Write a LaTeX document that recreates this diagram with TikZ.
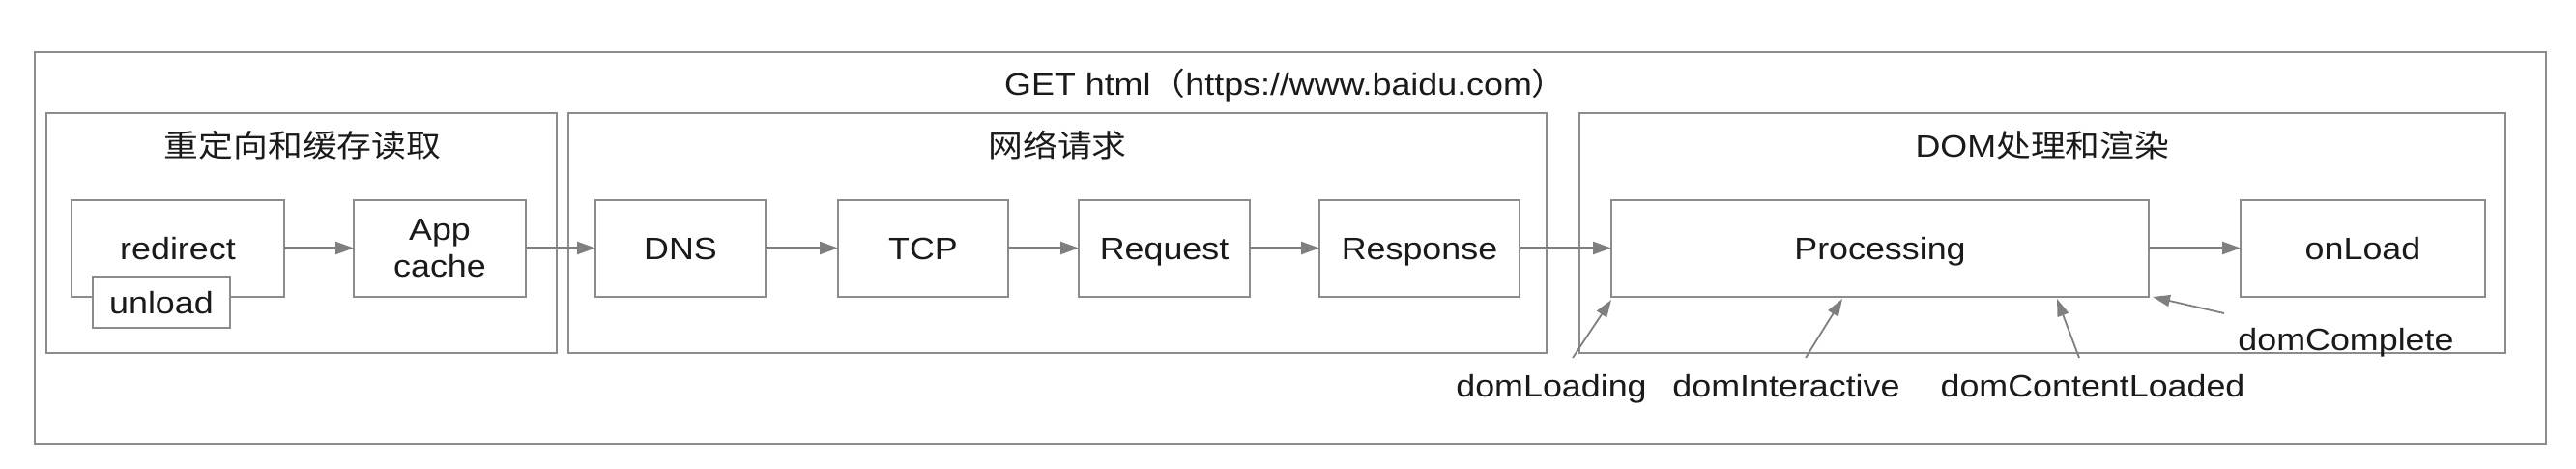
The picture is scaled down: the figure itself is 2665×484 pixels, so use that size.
\documentclass[tikz,border=0pt]{standalone}
\usepackage{fontspec}
\setmainfont{Liberation Sans}[FakeStretch=1.12]
\newfontfamily\cjk{Noto Sans CJK SC}[FakeStretch=1.12]
\usetikzlibrary{arrows.meta,calc}
\definecolor{bordergray}{HTML}{8C8C8C}
\definecolor{arrowgray}{HTML}{7F7F7F}
\definecolor{txt}{HTML}{1A1A1A}
\begin{document}
\begin{tikzpicture}[x=0.5pt,y=-0.5pt,
  font=\fontsize{16}{19}\selectfont, text=txt,
  frame/.style={draw=bordergray, line width=1pt, inner sep=0pt, outer sep=0pt},
  boxbase/.style={frame, fill=white, minimum height=50pt, align=center},
  box/.style={boxbase, text height=11.5pt, text depth=0pt},
  grp/.style={frame},
  lbl/.style={inner sep=0pt, anchor=base},
  conn/.style={draw=arrowgray, line width=1.2pt, -{Triangle[length=9.5pt,width=6.5pt]}},
  ann/.style={draw=arrowgray, line width=0.9pt, -{Triangle[length=9pt,width=6pt]}}]
\useasboundingbox (0,0) rectangle (2665,484);
% outer frame and title
\node[frame, minimum width=1299pt, minimum height=202.5pt] (outer) at (1335,256.5) {};
\node[lbl] (title) at (1330,98) {GET html{\cjk （}https://www.baidu.com{\cjk ）}};
% groups
\node[grp, minimum width=264pt, minimum height=124pt] (g1) at (312,241) {};
\node[grp, minimum width=506pt, minimum height=124pt] (g2) at (1094,241) {};
\node[grp, minimum width=479pt, minimum height=124pt] (g3) at (2113,241) {};
\node[lbl] (t1) at (313,162) {\cjk 重定向和缓存读取};
\node[lbl] (t2) at (1094,162) {\cjk 网络请求};
\node[lbl] (t3) at (2113,162) {DOM{\cjk 处理和渲染}};
% boxes
\node[box, minimum width=110pt] (redirect) at (184,256.5) {redirect};
\node[box, minimum width=71pt, minimum height=26.5pt] (unload) at (167,312.5) {unload};
\node[boxbase, minimum width=89pt] (app) at (455,256.5) {App\\cache};
\node[box, minimum width=88pt] (dns) at (704,256.5) {DNS};
\node[box, minimum width=88pt] (tcp) at (955,256.5) {TCP};
\node[box, minimum width=88.5pt] (req) at (1204.5,256.5) {Request};
\node[box, minimum width=103.5pt] (resp) at (1468.5,256.5) {Response};
\node[box, minimum width=278pt] (proc) at (1945,256.5) {Processing};
\node[box, minimum width=126.5pt] (onload) at (2444.5,256.5) {onLoad};
% main flow
\draw[conn] (redirect.east) -- (app.west);
\draw[conn] (app.east) -- (dns.west);
\draw[conn] (dns) -- (tcp);
\draw[conn] (tcp) -- (req);
\draw[conn] (req) -- (resp);
\draw[conn] (resp) -- (proc);
\draw[conn] (proc) -- (onload);
% event labels
\node[lbl] (dl) at (1605,410) {domLoading};
\node[lbl] (di) at (1848,410) {domInteractive};
\node[lbl] (dc) at (2165,410) {domContentLoaded};
\node[lbl] (dm) at (2427,362) {domComplete};
\coordinate (dlT) at (1627,370);
\coordinate (diT) at (1868,370);
\coordinate (dcT) at (2151,370);
\coordinate (dmT) at (2301,324);
\coordinate (dlH) at (1667,310);
\coordinate (diH) at (1906,309);
\coordinate (dcH) at (2128,309);
\coordinate (dmH) at (2227,307);
\draw[ann] (dlT) -- (dlH);
\draw[ann] (diT) -- (diH);
\draw[ann] (dcT) -- (dcH);
\draw[ann] (dmT) -- (dmH);
\end{tikzpicture}
\end{document}
